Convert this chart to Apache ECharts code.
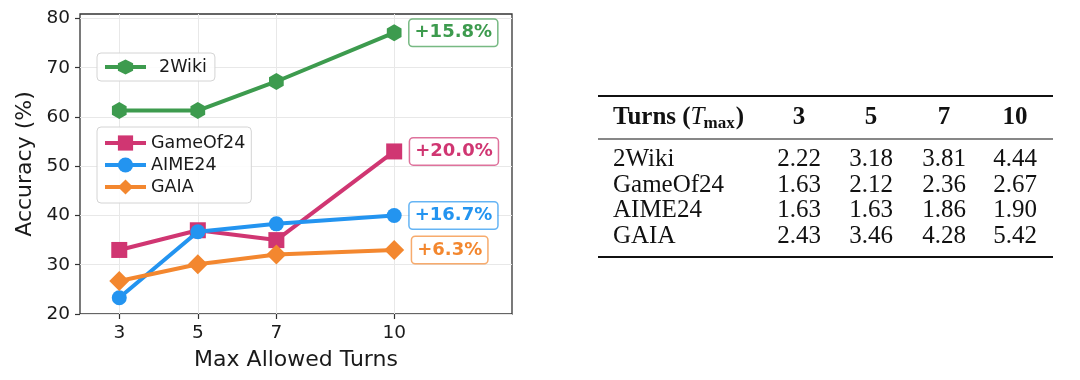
<!DOCTYPE html>
<html><head><meta charset="utf-8">
<script src="https://cdn.jsdelivr.net/npm/echarts@6/dist/echarts.min.js"></script>
<style>html,body{margin:0;padding:0;background:#fff}#c{width:1080px;height:380px}</style>
</head><body><div id="c"></div>
<script>
// ---- data ----
const TURNS = [3, 5, 7, 10];
const SERIES_NAMES = ['2Wiki', 'GameOf24', 'AIME24', 'GAIA'];
const WIKI = [61.3, 61.3, 67.2, 77.1];
const GAME24 = [33.0, 37.0, 35.0, 53.0];
const AIME24 = [23.3, 36.7, 38.3, 40.0];
const GAIA = [26.7, 30.1, 32.1, 33.0];
const GAINS = ['+15.8%', '+20.0%', '+16.7%', '+6.3%'];
const Y_TICKS = [20, 30, 40, 50, 60, 70, 80];
const X_TICKS = [3, 5, 7, 10];
const TABLE_COLS = ['3', '5', '7', '10'];
const TABLE_ROW_NAMES = ['2Wiki', 'GameOf24', 'AIME24', 'GAIA'];
const TABLE_WIKI = ['2.22', '3.18', '3.81', '4.44'];
const TABLE_GAME24 = ['1.63', '2.12', '2.36', '2.67'];
const TABLE_AIME24 = ['1.63', '1.63', '1.86', '1.90'];
const TABLE_GAIA = ['2.43', '3.46', '4.28', '5.42'];

// ---- styles ----
const COLORS = ['#3d9b4e', '#d03672', '#2394f0', '#f3872f'];
const BORDERS = ['rgba(61,155,78,0.7)', 'rgba(208,54,114,0.7)', 'rgba(35,148,240,0.7)', 'rgba(243,135,47,0.7)'];
const HEX = 'path://M86.6,0 L173.2,50 L173.2,150 L86.6,200 L0,150 L0,50 Z';
const SYMBOLS = [HEX, 'rect', 'circle', 'diamond'];
const SYM_SIZES = [17, 16, 15, 20];
const VALUES = [WIKI, GAME24, AIME24, GAIA];
const SANS = 'DejaVu Sans';
const SERIF = 'Liberation Serif';

const chart = echarts.init(document.getElementById('c'), null, {renderer: 'canvas'});

const series = SERIES_NAMES.map((name, s) => ({
  name: name,
  type: 'line',
  data: TURNS.map((t, i) => {
    const item = {value: [t, VALUES[s][i]]};
    if (i === TURNS.length - 1) {
      item.label = {
        show: true, position: 'right', distance: 8,
        formatter: GAINS[s], color: COLORS[s], fontWeight: 'bold',
        fontSize: 18, fontFamily: SANS, lineHeight: 20,
        backgroundColor: '#fff', borderColor: BORDERS[s], borderWidth: 1.5,
        borderRadius: 3, padding: [3, 5, 3, 5]
      };
    }
    return item;
  }),
  symbol: SYMBOLS[s],
  symbolSize: SYM_SIZES[s],
  symbolKeepAspect: true,
  showAllSymbol: true,
  color: COLORS[s],
  lineStyle: {width: 4, color: COLORS[s]},
  itemStyle: {color: COLORS[s]},
  emphasis: {disabled: true},
  animation: false,
  z: 3 + s
}));

// ---- table (graphic) ----
const measure = (() => {
  const ctx = document.createElement('canvas').getContext('2d');
  return (text, font) => { ctx.font = font; return ctx.measureText(text).width; };
})();
const COL_X = [799, 871, 944, 1015];
const TBL_LEFT = 598, TBL_RIGHT = 1053, LABEL_X = 613;
const HEAD_Y = 117.5, ROW_Y0 = 159.8, ROW_DY = 25.5;
const FS = 25;
const graphics = [];
graphics.push({type: 'line', shape: {x1: TBL_LEFT, y1: 96, x2: TBL_RIGHT, y2: 96}, style: {stroke: '#111', lineWidth: 2}});
graphics.push({type: 'line', shape: {x1: TBL_LEFT, y1: 139, x2: TBL_RIGHT, y2: 139}, style: {stroke: '#111', lineWidth: 1.2}});
graphics.push({type: 'line', shape: {x1: TBL_LEFT, y1: 257, x2: TBL_RIGHT, y2: 257}, style: {stroke: '#111', lineWidth: 2}});
// header
const fBold = `bold ${FS}px "${SERIF}"`, fIt = `italic ${FS}px "${SERIF}"`, fSub = `bold 17px "${SERIF}"`;
const p1 = 'Turns (', p2 = 'T', p3 = 'max', p4 = ')';
let hx = LABEL_X;
graphics.push({type: 'text', x: hx, y: HEAD_Y, style: {text: p1, font: fBold, fill: '#111', align: 'left', verticalAlign: 'middle'}});
hx += measure(p1, fBold);
graphics.push({type: 'text', x: hx, y: HEAD_Y, style: {text: p2, font: fIt, fill: '#111', align: 'left', verticalAlign: 'middle'}});
hx += measure(p2, fIt) - 1;
graphics.push({type: 'text', x: hx, y: HEAD_Y + 6.5, style: {text: p3, font: fSub, fill: '#111', align: 'left', verticalAlign: 'middle'}});
hx += measure(p3, fSub) + 1;
graphics.push({type: 'text', x: hx, y: HEAD_Y, style: {text: p4, font: fBold, fill: '#111', align: 'left', verticalAlign: 'middle'}});
TABLE_COLS.forEach((c, j) => {
  graphics.push({type: 'text', x: COL_X[j], y: HEAD_Y, style: {text: c, font: fBold, fill: '#111', align: 'center', verticalAlign: 'middle'}});
});
const TABLE_VALUES = [TABLE_WIKI, TABLE_GAME24, TABLE_AIME24, TABLE_GAIA];
const fReg = `${FS}px "${SERIF}"`;
TABLE_ROW_NAMES.forEach((r, i) => {
  const y = ROW_Y0 + i * ROW_DY;
  graphics.push({type: 'text', x: LABEL_X, y: y, style: {text: r, font: fReg, fill: '#111', align: 'left', verticalAlign: 'middle'}});
  TABLE_VALUES[i].forEach((v, j) => {
    graphics.push({type: 'text', x: COL_X[j], y: y, style: {text: v, font: fReg, fill: '#111', align: 'center', verticalAlign: 'middle'}});
  });
});

const legendCommon = {
  orient: 'vertical', itemWidth: 41, itemHeight: 19, itemGap: 4,
  borderColor: '#d4d4d4', borderWidth: 1, borderRadius: 4,
  backgroundColor: 'rgba(255,255,255,0.85)',
  selectedMode: false,
  lineStyle: {width: 4},
  textStyle: {fontSize: 17.5, fontFamily: SANS, color: '#1a1a1a'}
};

chart.setOption({
  animation: false,
  backgroundColor: '#fff',
  grid: {left: 80, top: 14, width: 432, height: 300, show: true, borderColor: '#333', borderWidth: 1.3, backgroundColor: 'transparent'},
  legend: [
    Object.assign({}, legendCommon, {data: ['2Wiki'], left: 97, top: 53, padding: [5, 8, 5, 6],
      textStyle: Object.assign({}, legendCommon.textStyle, {padding: [0, 0, 0, 8]})}),
    Object.assign({}, legendCommon, {data: ['GameOf24', 'AIME24', 'GAIA'], left: 97, top: 127, padding: [7, 6, 7, 6]})
  ],
  xAxis: {
    type: 'value', min: 2, max: 13,
    name: 'Max Allowed Turns', nameLocation: 'middle', nameGap: 35,
    nameTextStyle: {fontSize: 22, fontFamily: SANS, color: '#1a1a1a'},
    axisLine: {show: false},
    axisTick: {show: true, length: 5, lineStyle: {color: '#333', width: 1.2}, customValues: X_TICKS},
    axisLabel: {fontSize: 18.5, fontFamily: SANS, color: '#1a1a1a', margin: 10, customValues: X_TICKS},
    splitLine: {show: true, lineStyle: {color: '#e8e8e8', width: 1}}
  },
  yAxis: {
    type: 'value', min: 20, max: 80.9,
    name: 'Accuracy (%)', nameLocation: 'middle', nameGap: 44,
    nameTextStyle: {fontSize: 22, fontFamily: SANS, color: '#1a1a1a'},
    axisLine: {show: false},
    axisTick: {show: true, length: 5, lineStyle: {color: '#333', width: 1.2}, customValues: Y_TICKS},
    axisLabel: {fontSize: 18.5, fontFamily: SANS, color: '#1a1a1a', margin: 10, customValues: Y_TICKS},
    splitLine: {show: true, lineStyle: {color: '#e8e8e8', width: 1}}
  },
  series: series,
  graphic: graphics
});
</script></body></html>
